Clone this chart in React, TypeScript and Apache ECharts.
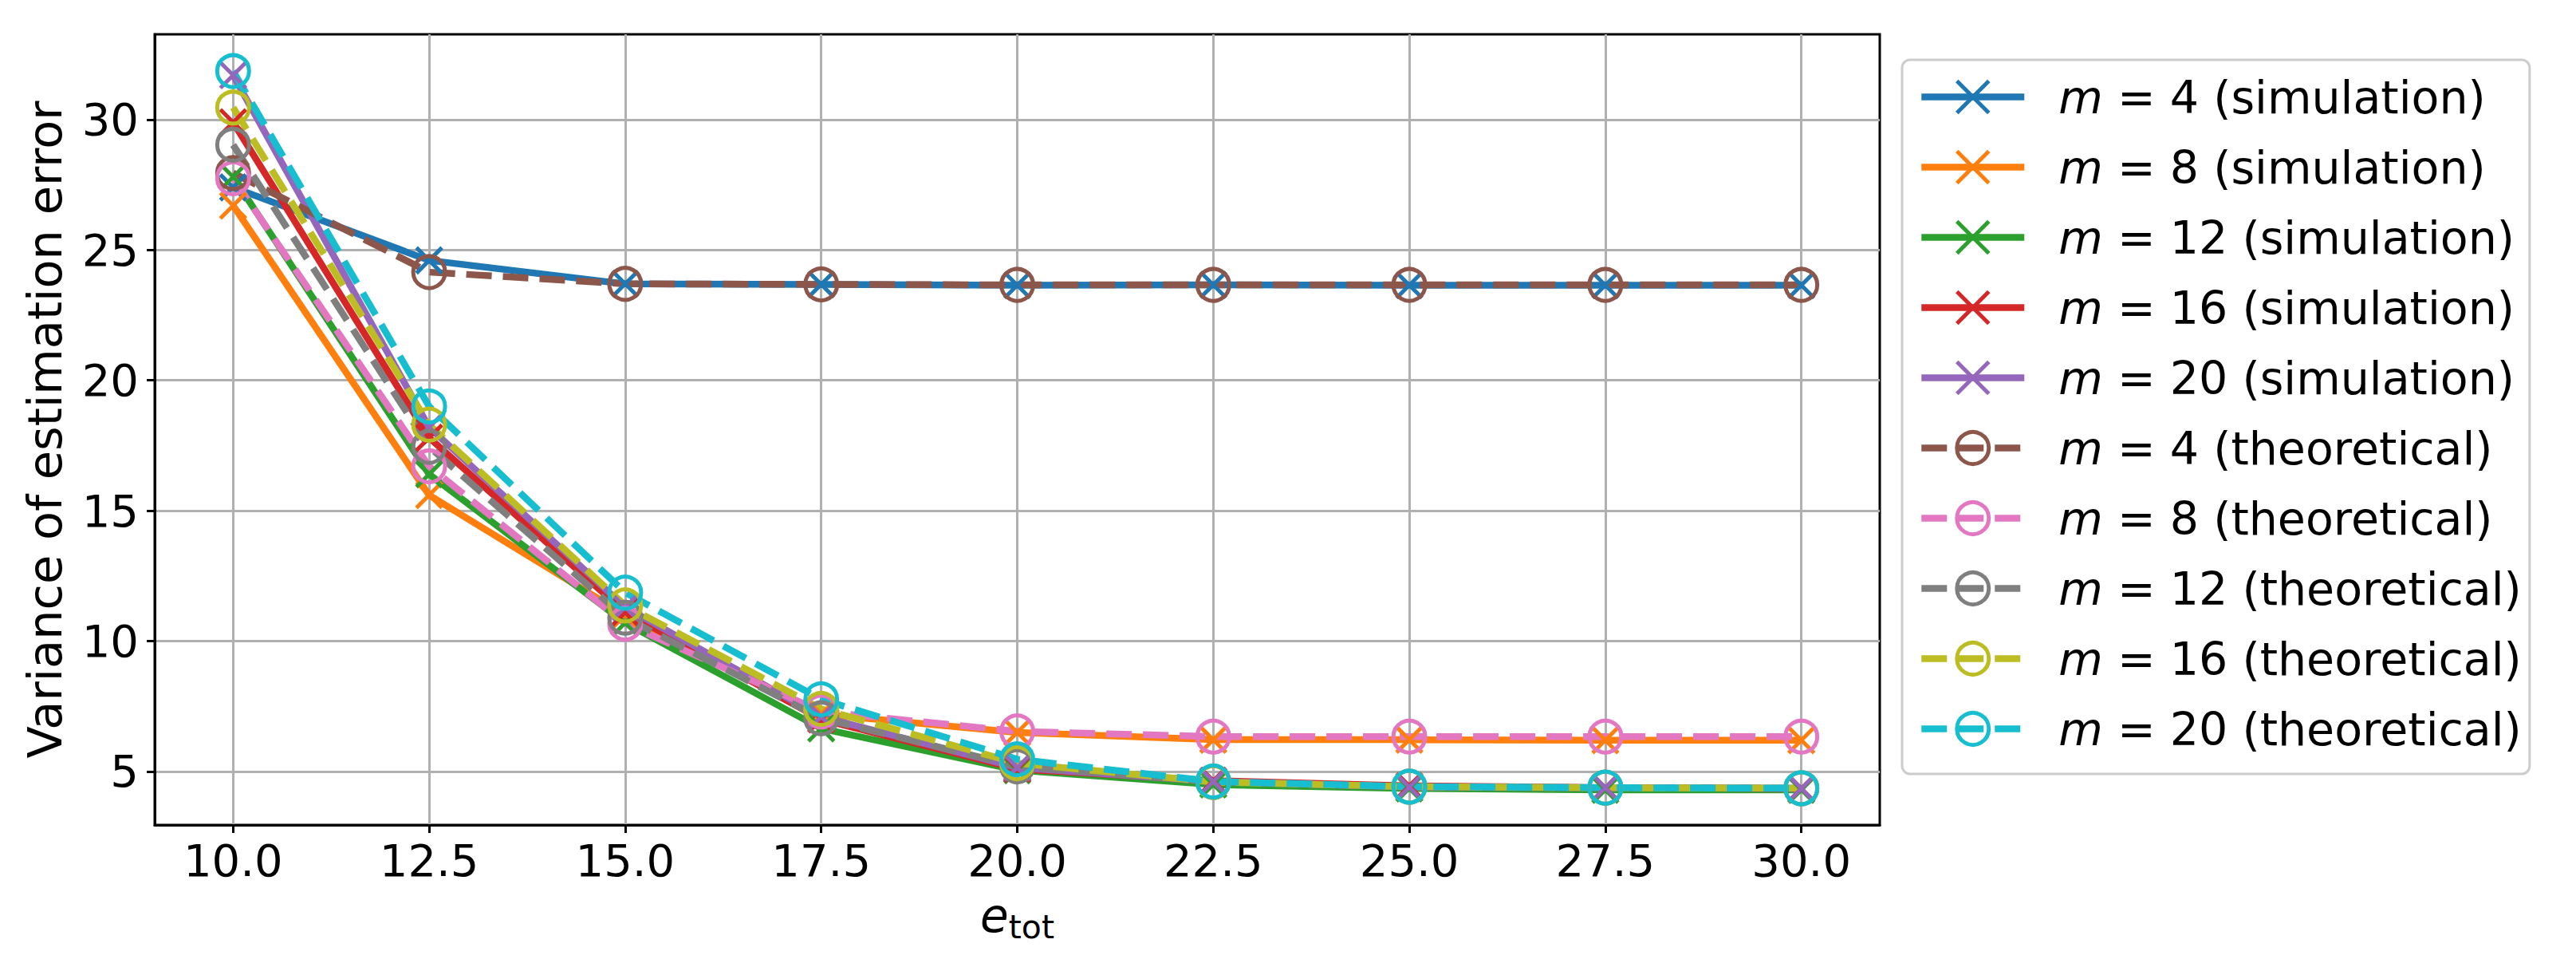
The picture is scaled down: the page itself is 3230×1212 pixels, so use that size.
import React, { useEffect, useRef } from "react";
import * as echarts from "echarts";

// x positions (e_tot)
const xValues = [10, 12.5, 15, 17.5, 20, 22.5, 25, 27.5, 30];
const xTicks = [10, 12.5, 15, 17.5, 20, 22.5, 25, 27.5, 30];
const yTicks = [5, 10, 15, 20, 25, 30];
const mValues = [4, 8, 12, 16, 20];

// simulation results
const simM4 = [27.4, 24.6, 23.7, 23.68, 23.65, 23.66, 23.65, 23.65, 23.65];
const simM8 = [26.7, 15.6, 11.0, 7.2, 6.5, 6.22, 6.22, 6.2, 6.2];
const simM12 = [27.8, 16.4, 10.7, 6.65, 5.05, 4.5, 4.35, 4.3, 4.3];
const simM16 = [29.9, 17.8, 11.1, 7.0, 5.1, 4.65, 4.45, 4.38, 4.35];
const simM20 = [31.7, 18.2, 11.3, 7.1, 5.15, 4.62, 4.4, 4.38, 4.35];

// theoretical results
const theoM4 = [27.95, 24.15, 23.7, 23.68, 23.66, 23.66, 23.66, 23.66, 23.66];
const theoM8 = [27.75, 16.7, 10.67, 7.3, 6.54, 6.34, 6.34, 6.34, 6.34];
const theoM12 = [29.03, 17.45, 10.9, 7.04, 5.2, 4.6, 4.42, 4.38, 4.36];
const theoM16 = [30.46, 18.3, 11.37, 7.4, 5.32, 4.6, 4.42, 4.38, 4.36];
const theoM20 = [31.86, 19.0, 11.86, 7.77, 5.47, 4.62, 4.42, 4.38, 4.36];

const simData = [simM4, simM8, simM12, simM16, simM20];
const theoData = [theoM4, theoM8, theoM12, theoM16, theoM20];

const simColors = ["#1f77b4", "#ff7f0e", "#2ca02c", "#d62728", "#9467bd"];
const theoColors = ["#8c564b", "#e377c2", "#7f7f7f", "#bcbd22", "#17becf"];

const FONT = "DejaVu Sans";
const X_SYMBOL = "path://M0,0L10,10M10,0L0,10";

export default function App() {
  const ref = useRef<HTMLDivElement>(null);

  useEffect(() => {
    document.body.style.margin = "0";
    if (!ref.current) return;
    const chart = echarts.init(ref.current, null, { renderer: "svg" });

    const series: any[] = [];
    mValues.forEach((m, i) => {
      series.push({
        name: `m = ${m} (simulation)`,
        type: "line",
        data: xValues.map((x, j) => [x, simData[i][j]]),
        symbol: X_SYMBOL,
        symbolSize: 32,
        showSymbol: true,
        lineStyle: { color: simColors[i], width: 8.5, type: "solid" },
        itemStyle: { color: "none", borderColor: simColors[i], borderWidth: 5 },
        emphasis: { disabled: true },
        silent: true,
      });
    });
    mValues.forEach((m, i) => {
      series.push({
        name: `m = ${m} (theoretical)`,
        type: "line",
        data: xValues.map((x, j) => [x, theoData[i][j]]),
        symbol: "circle",
        symbolSize: 40,
        showSymbol: true,
        lineStyle: { color: theoColors[i], width: 8.5, type: [32, 14] },
        itemStyle: { color: "none", borderColor: theoColors[i], borderWidth: 5 },
        emphasis: { disabled: true },
        silent: true,
      });
    });

    const option: any = {
      animation: false,
      backgroundColor: "#fff",
      textStyle: { fontFamily: FONT },
      grid: {
        left: 194,
        top: 43,
        width: 2163,
        height: 991,
        show: true,
        borderColor: "#000",
        borderWidth: 3,
        backgroundColor: "transparent",
      },
      xAxis: {
        type: "value",
        min: 9,
        max: 31,
        name: "{e|e}{s|tot}",
        nameLocation: "middle",
        nameGap: 85,
        nameTextStyle: {
          rich: {
            e: {
              fontFamily: FONT,
              fontStyle: "italic",
              fontSize: 58,
              color: "#000",
              verticalAlign: "top",
              lineHeight: 58,
            },
            s: {
              fontFamily: FONT,
              fontSize: 41,
              color: "#000",
              verticalAlign: "top",
              lineHeight: 41,
              padding: [22, 0, 0, 0],
            },
          },
        },
        axisLine: { show: true, lineStyle: { color: "#000", width: 3 } },
        axisTick: {
          show: true,
          inside: false,
          length: 10,
          lineStyle: { color: "#000", width: 3 },
          customValues: xTicks,
        },
        axisLabel: {
          customValues: xTicks,
          formatter: (v: number) => v.toFixed(1),
          fontFamily: FONT,
          fontSize: 56,
          color: "#000",
          margin: 16,
        },
        splitLine: { show: true, lineStyle: { color: "#b0b0b0", width: 3 } },
      },
      yAxis: {
        type: "value",
        min: 2.95,
        max: 33.27,
        name: "Variance of estimation error",
        nameLocation: "middle",
        nameGap: 108,
        nameTextStyle: { fontFamily: FONT, fontSize: 59, color: "#000" },
        axisLine: { show: true, lineStyle: { color: "#000", width: 3 } },
        axisTick: {
          show: true,
          inside: false,
          length: 10,
          lineStyle: { color: "#000", width: 3 },
          customValues: yTicks,
        },
        axisLabel: {
          customValues: yTicks,
          formatter: (v: number) => String(v),
          fontFamily: FONT,
          fontSize: 56,
          color: "#000",
          margin: 20,
        },
        splitLine: { show: true, lineStyle: { color: "#b0b0b0", width: 3 } },
      },
      legend: {
        orient: "vertical",
        left: 2385,
        top: 75,
        itemWidth: 129,
        itemHeight: 50,
        itemGap: 31,
        padding: [18, 10, 28, 20],
        borderColor: "#cccccc",
        borderWidth: 3,
        borderRadius: 10,
        backgroundColor: "#ffffff",
        selectedMode: false,
        itemStyle: { borderWidth: "inherit" },
        lineStyle: { width: "inherit" },
        formatter: (name: string) => name.replace(/^m/, "{i|m}"),
        textStyle: {
          fontFamily: FONT,
          fontSize: 57,
          color: "#000",
          lineHeight: 50,
          padding: [0, 0, 0, 38],
          rich: {
            i: {
              fontFamily: FONT,
              fontStyle: "italic",
              fontSize: 57,
              color: "#000",
              lineHeight: 50,
            },
          },
        },
        data: series.map((s) => s.name),
      },
      series,
    };

    chart.setOption(option);
    return () => {
      chart.dispose();
    };
  }, []);

  return (
    <div
      ref={ref}
      style={{ position: "absolute", left: 0, top: 0, width: 3230, height: 1212 }}
    />
  );
}
